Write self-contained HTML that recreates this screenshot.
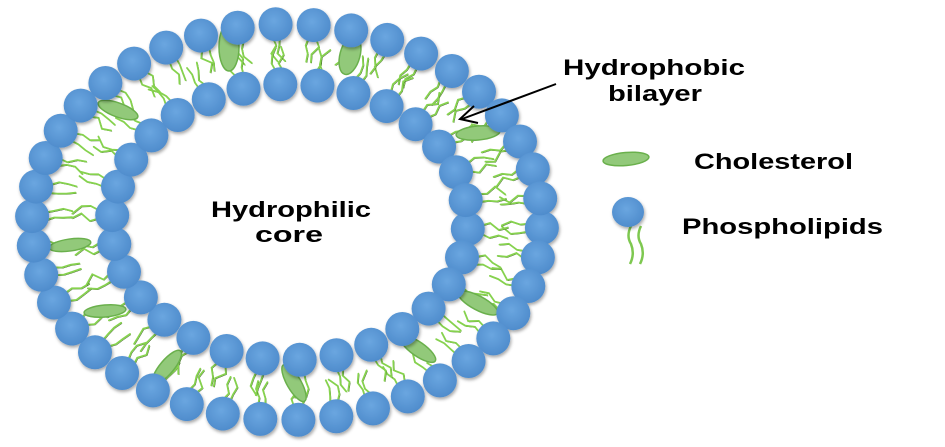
<!DOCTYPE html>
<html><head><meta charset="utf-8"><style>
html,body{margin:0;padding:0;background:#fff;width:945px;height:447px;overflow:hidden}
svg{display:block}
text{font-family:"Liberation Sans",sans-serif;font-weight:bold;fill:#000}
</style></head><body>
<svg id="s" width="945" height="447" viewBox="0 0 945 447" xmlns="http://www.w3.org/2000/svg">
<defs>
<radialGradient id="g" cx="45%" cy="40%" r="60%"><stop offset="0" stop-color="#6aa6e0"/><stop offset="1" stop-color="#4f8ccc"/></radialGradient>
<filter id="sh" x="-30%" y="-30%" width="160%" height="160%"><feDropShadow dx="1" dy="2" stdDeviation="1.5" flood-color="#000" flood-opacity="0.35"/></filter>
</defs>
<g id="tails" fill="none" stroke-linecap="round"></g>
<g id="chol" fill="#92c97a" stroke="#6ab04c" stroke-width="1.5"></g>
<g id="heads" filter="url(#sh)" fill="url(#g)"></g>
<text x="211" y="217" font-size="22" textLength="160" lengthAdjust="spacingAndGlyphs">Hydrophilic</text>
<text x="255" y="242" font-size="22" textLength="68" lengthAdjust="spacingAndGlyphs">core</text>
<text x="563" y="75" font-size="22" textLength="182" lengthAdjust="spacingAndGlyphs">Hydrophobic</text>
<text x="608" y="101" font-size="22" textLength="94" lengthAdjust="spacingAndGlyphs">bilayer</text>
<line x1="556" y1="84" x2="462" y2="119" stroke="#000" stroke-width="2"/>
<polyline points="474,106 460,119 478,123" fill="none" stroke="#000" stroke-width="2"/>
<ellipse cx="626" cy="159" rx="23" ry="6.5" transform="rotate(-5 626 159)" fill="#92c97a" stroke="#6ab04c" stroke-width="1.5"/>
<text x="694" y="169" font-size="22" textLength="159" lengthAdjust="spacingAndGlyphs">Cholesterol</text>
<path d="M631 226 q-5 10 0 18 q4 10 -1 20" stroke="#7ec850" stroke-width="2.5" fill="none"/>
<path d="M641 226 q-5 10 0 18 q4 10 -1 20" stroke="#7ec850" stroke-width="2.5" fill="none"/>
<ellipse cx="628" cy="212" rx="16" ry="15" fill="url(#g)" filter="url(#sh)"/>
<text x="682" y="234" font-size="22" textLength="201" lengthAdjust="spacingAndGlyphs">Phospholipids</text>
</svg>
<script>
var NS="http://www.w3.org/2000/svg";
var heads=document.getElementById('heads'),tails=document.getElementById('tails'),chol=document.getElementById('chol');
function ring(cx,cy,rx,ry,n,off){var pts=[];for(var i=0;i<n;i++){var a=(i/n)*2*Math.PI+off;pts.push([cx+rx*Math.cos(a),cy+ry*Math.sin(a),a]);}return pts;}
var outer=ring(287,222,255,198,42,0.03),inner=ring(290,222,178,138,30,0.05);
var seed=3;function rnd(){seed=(seed*9301+49297)%233280;return seed/233280;}
function tail(x,y,a,dir){
 var dx=Math.cos(a)*dir,dy=Math.sin(a)*dir*0.9;
 for(var k=-1;k<=1;k+=2){
  var px=-dy*k*4,py=dx*k*4;var sx=x+px,sy=y+py;var d="M"+sx.toFixed(1)+" "+sy.toFixed(1);
  for(var j=1;j<=3;j++){var w=(rnd()-0.5)*10;d+=" L"+(sx+dx*j*9-dy*w).toFixed(1)+" "+(sy+dy*j*9+dx*w).toFixed(1);}
  var q=document.createElementNS(NS,'path');q.setAttribute('d',d);q.setAttribute('stroke','#2d4a1e');q.setAttribute('stroke-width','0.5');q.setAttribute('transform','translate(0.8,0.8)');tails.appendChild(q);
  var p=document.createElementNS(NS,'path');p.setAttribute('d',d);p.setAttribute('stroke','#86d24e');p.setAttribute('stroke-width','1.8');tails.appendChild(p);
 }}
outer.forEach(function(p){tail(p[0]-Math.cos(p[2])*13,p[1]-Math.sin(p[2])*13,p[2],-1);});
inner.forEach(function(p){tail(p[0]+Math.cos(p[2])*13,p[1]+Math.sin(p[2])*13,p[2],1);});
[[229,47,10,24,0],[350,55,10,20,15],[118,110,21,7,20],[478,133,22,7,-5],[70,245,21,6,-8],[105,311,21,6,-5],[167,367,21,7,-50],[294,383,21,7,60],[418,349,21,7,35],[478,303,22,7,28]].forEach(function(c){
 var e=document.createElementNS(NS,'ellipse');e.setAttribute('cx',c[0]);e.setAttribute('cy',c[1]);e.setAttribute('rx',c[2]);e.setAttribute('ry',c[3]);e.setAttribute('transform','rotate('+c[4]+' '+c[0]+' '+c[1]+')');chol.appendChild(e);});
outer.concat(inner).forEach(function(p){var c=document.createElementNS(NS,'circle');c.setAttribute('cx',p[0].toFixed(1));c.setAttribute('cy',p[1].toFixed(1));c.setAttribute('r','17');heads.appendChild(c);});
</script>
</body></html>
